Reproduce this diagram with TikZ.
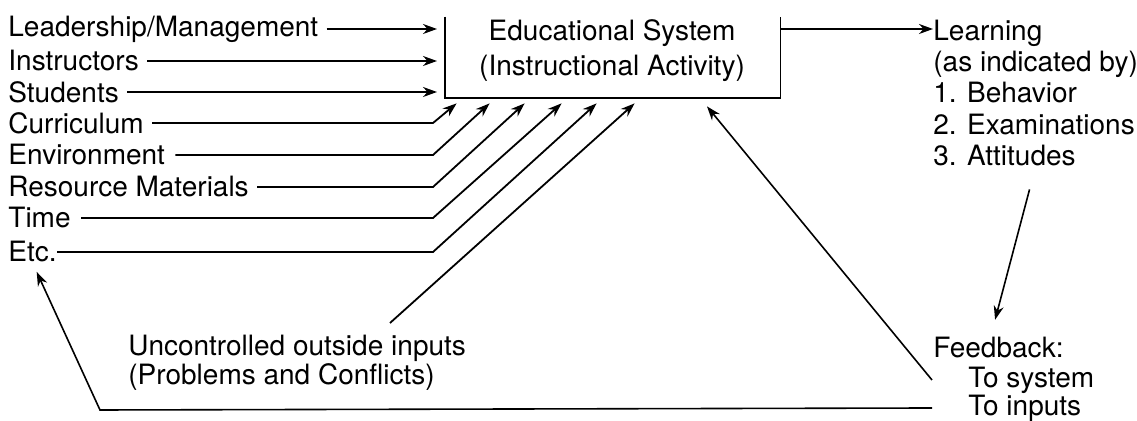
\documentclass[tikz,border=0pt]{standalone}
\usepackage{fontspec}
\setmainfont{TeX Gyre Heros}
\usetikzlibrary{arrows.meta,positioning,calc}

\begin{document}
\begin{tikzpicture}[x=0.5pt,y=-0.5pt,
    lbl/.style={anchor=west,inner sep=0pt,font=\fontsize{14}{15.6}\selectfont},
    inarrow/.style={-{Stealth[length=7pt,width=5pt]},line width=0.9pt},
    fbarrow/.style={-{Stealth[length=7pt,width=5pt]},line width=0.8pt}]
        \useasboundingbox (0,0) rectangle (1137,421);

        % Inputs on the left
        \node[lbl] (lead) at (8,29) {Leadership/Management};
        \node[lbl] (inst) at (8,61) {Instructors};
        \node[lbl] (stud) at (8,92) {Students};
        \node[lbl] (curr) at (8,123) {Curriculum};
        \node[lbl] (env) at (8,155) {Environment};
        \node[lbl] (res) at (8,187) {Resource Materials};
        \node[lbl] (time) at (8,218) {Time};
        \node[lbl] (etc) at (8,252) {Etc.};

        % Educational system (box open at the top)
        \node[minimum width=167.5pt,minimum height=40.5pt,inner sep=0pt] (sys) at (612.5,57.5) {};
        \draw[line width=0.9pt] (sys.north west) -- (sys.south west) -- (sys.south east) -- (sys.north east);
        \node[font=\fontsize{14}{17.5}\selectfont,align=center,inner sep=0pt] (systxt) at (612,51) {Educational System\\(Instructional Activity)};

        % Direct inputs
        \draw[inarrow,shorten <=4pt] (lead.east) -- (lead -| 437,0);
        \draw[inarrow,shorten <=4pt] (inst.east) -- (inst -| 437,0);
        \draw[inarrow,shorten <=4pt] (stud.east) -- (stud -| 437,0);

        % Inputs that bend up into the system
        \coordinate (bend) at (433,0);
        \draw[inarrow,shorten <=4pt] (curr.east) -- (curr -| bend) -- ($(sys.south west)+(12,5)$);
        \draw[inarrow,shorten <=5pt] (env.east) -- (env -| bend) -- ($(sys.south west)+(45,5)$);
        \draw[inarrow,shorten <=4pt] (res.east) -- (res -| bend) -- ($(sys.south west)+(80,5)$);
        \draw[inarrow,shorten <=5pt] (time.east) -- (time -| bend) -- ($(sys.south west)+(117,5)$);
        \draw[inarrow] (etc.east) -- (etc -| bend) -- ($(sys.south west)+(152,5)$);

        % Uncontrolled outside inputs
        \node[lbl,anchor=north west,align=left,font=\fontsize{14}{14.5}\selectfont] (unc) at (128,335) {Uncontrolled outside inputs\\(Problems and Conflicts)};
        \coordinate (uncin) at (390,323);
        \draw[inarrow] (uncin) -- ($(sys.south west)+(190,5)$);

        % Output
        \node[lbl,align=left] (learn) at (933,93) {Learning\\(as indicated by)\\1. Behavior\\2. Examinations\\3. Attitudes};
        \coordinate (sysout) at (sys.north east |- lead);
        \draw[inarrow] (sysout) -- (learn.west |- sysout);

        % Feedback
        \node[lbl] (fb) at (933,348) {Feedback:};
        \node[lbl] (fbsys) at (968,380) {To system};
        \node[lbl] (fbinp) at (968,408) {To inputs};
        \draw[fbarrow,shorten <=12pt,shorten >=9pt] (learn.south) -- ([xshift=-4pt]fb.north);
        \draw[fbarrow] ([xshift=-18pt]fbsys.west) -- ($(sys.south)+(94.5,8)$);
        \coordinate (fbcorner) at (100,410);
        \draw[fbarrow,shorten >=5pt] ([xshift=-18pt]fbinp.west) -- (fbcorner) -- (etc.south);

\end{tikzpicture}
\end{document}
